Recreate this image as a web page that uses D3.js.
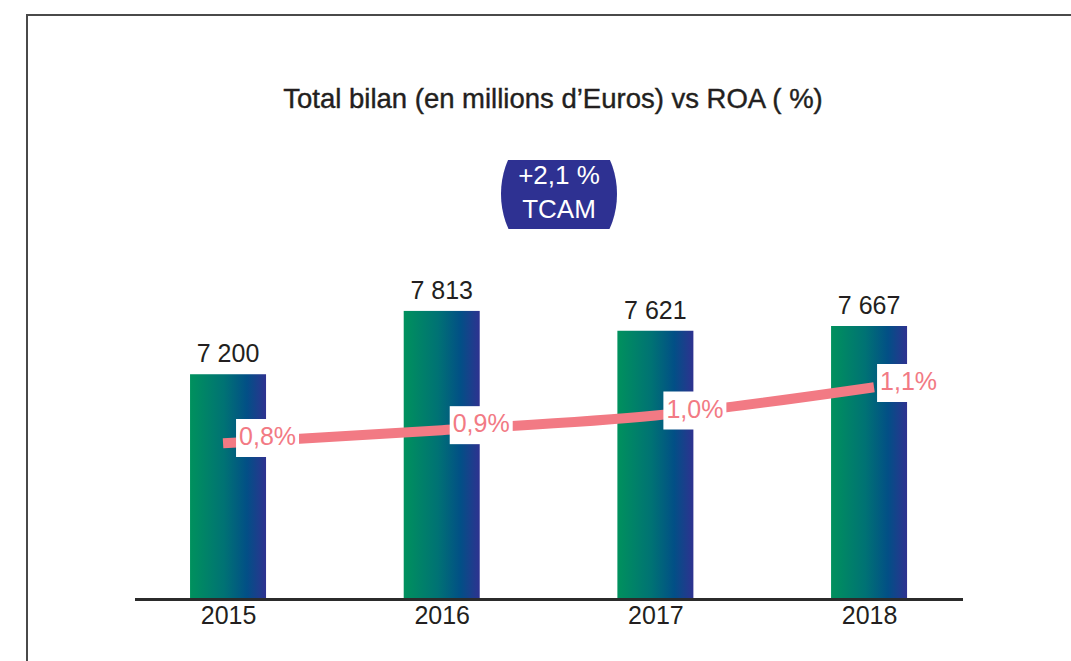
<!DOCTYPE html>
<html>
<head>
<meta charset="utf-8">
<script src="https://cdn.jsdelivr.net/npm/d3@7"></script>
<style>
  body { margin: 0; background: #fff; }
  text { font-family: "Liberation Sans", Arial, sans-serif; }
</style>
</head>
<body>
<div id="body"></div>
<script>
// data
var years = ["2015", "2016", "2017", "2018"];
var totalBilan = [7200, 7813, 7621, 7667];
var bilanLabels = ["7 200", "7 813", "7 621", "7 667"];
var roa = [0.80, 0.87, 0.95, 1.10];
var roaLabels = ["0,8%", "0,9%", "1,0%", "1,1%"];
var title = "Total bilan (en millions d\u2019Euros) vs ROA ( %)";
var badgeLines = ["+2,1 %", "TCAM"];

var width = 1071, height = 661;
var baseY = 598;

var svg = d3.select("#body")
  .append("svg")
  .attr("width", width)
  .attr("height", height);

var defs = svg.append("defs");
var grad = defs.append("linearGradient")
  .attr("id", "barGrad")
  .attr("x1", "0%").attr("x2", "100%")
  .attr("y1", "0%").attr("y2", "0%");
grad.append("stop").attr("offset", "0%").attr("stop-color", "#00915d");
grad.append("stop").attr("offset", "45%").attr("stop-color", "#007274");
grad.append("stop").attr("offset", "75%").attr("stop-color", "#024f86");
grad.append("stop").attr("offset", "100%").attr("stop-color", "#2e3290");

// frame
svg.append("rect")
  .attr("x", 27).attr("y", 15)
  .attr("width", 1100).attr("height", 700)
  .attr("fill", "none")
  .attr("stroke", "#4a4a4a")
  .attr("stroke-width", 2);

svg.append("text")
  .attr("x", 553)
  .attr("y", 108)
  .attr("text-anchor", "middle")
  .attr("font-size", 27.5)
  .attr("fill", "#231f20")
  .attr("stroke", "#231f20")
  .attr("stroke-width", 0.4)
  .text(title);

// TCAM badge
defs.append("clipPath").attr("id", "badgeClip")
  .append("rect")
  .attr("x", 490).attr("y", 160)
  .attr("width", 140).attr("height", 69);

svg.append("ellipse")
  .attr("cx", 559).attr("cy", 194)
  .attr("rx", 58).attr("ry", 71)
  .attr("fill", "#2e3192")
  .attr("clip-path", "url(#badgeClip)");

svg.selectAll(".badge")
  .data(badgeLines)
  .enter().append("text")
  .attr("class", "badge")
  .attr("x", 559)
  .attr("y", function(d, i) { return 184 + i * 34; })
  .attr("text-anchor", "middle")
  .attr("font-size", 26)
  .attr("fill", "#fff")
  .text(function(d) { return d; });

var x = d3.scalePoint()
  .domain(years)
  .range([121.2, 975.9])
  .padding(0.5);

var y = d3.scaleLinear()
  .domain([5034, 8000])
  .range([baseY, 291.6]);

var yRoa = d3.scaleLinear()
  .domain([0.8, 1.1])
  .range([443, 388]);

var barW = 76;

var bars = years.map(function(yr, i) {
  return { year: yr, value: totalBilan[i], label: bilanLabels[i], roa: roa[i], roaLabel: roaLabels[i] };
});

svg.selectAll(".bar")
  .data(bars)
  .enter().append("rect")
  .attr("class", "bar")
  .attr("x", function(d) { return x(d.year) - barW / 2; })
  .attr("y", function(d) { return y(d.value); })
  .attr("width", barW)
  .attr("height", function(d) { return baseY - y(d.value); })
  .attr("fill", "url(#barGrad)");

svg.selectAll(".valLabel")
  .data(bars)
  .enter().append("text")
  .attr("class", "valLabel")
  .attr("x", function(d) { return x(d.year); })
  .attr("y", function(d) { return y(d.value) - 12; })
  .attr("text-anchor", "middle")
  .attr("font-size", 25)
  .attr("fill", "#231f20")
  .text(function(d) { return d.label; });

// x axis
var xAxis = svg.append("g")
  .attr("transform", "translate(0," + 599.5 + ")")
  .call(d3.axisBottom(x).tickSize(0).tickPadding(7));
xAxis.select(".domain")
  .attr("d", "M135,0H963")
  .attr("stroke", "#2b2b2b")
  .attr("stroke-width", 3);
xAxis.selectAll("text")
  .attr("font-family", "'Liberation Sans', Arial, sans-serif")
  .attr("font-size", 25)
  .attr("fill", "#231f20");

// ROA line
var line = d3.line()
  .x(function(d) { return x(d.year); })
  .y(function(d) { return yRoa(d.roa); })
  .curve(d3.curveMonotoneX);

svg.append("path")
  .datum(bars)
  .attr("d", line)
  .attr("fill", "none")
  .attr("stroke", "#f27a84")
  .attr("stroke-width", 10)
  .attr("stroke-linecap", "square");

var lab = svg.selectAll(".roaLab")
  .data(bars)
  .enter().append("g")
  .attr("class", "roaLab")
  .attr("transform", function(d) {
    return "translate(" + (x(d.year) + 8) + "," + (yRoa(d.roa) - 24) + ")";
  });

lab.append("rect")
  .attr("height", 38)
  .attr("fill", "#fff");

lab.append("text")
  .attr("x", 3)
  .attr("y", 26)
  .attr("font-size", 25)
  .attr("fill", "#f27a84")
  .text(function(d) { return d.roaLabel; });

lab.each(function() {
  var g = d3.select(this);
  var w = g.select("text").node().getComputedTextLength();
  g.select("rect").attr("width", w + 6);
});
</script>
</body>
</html>
